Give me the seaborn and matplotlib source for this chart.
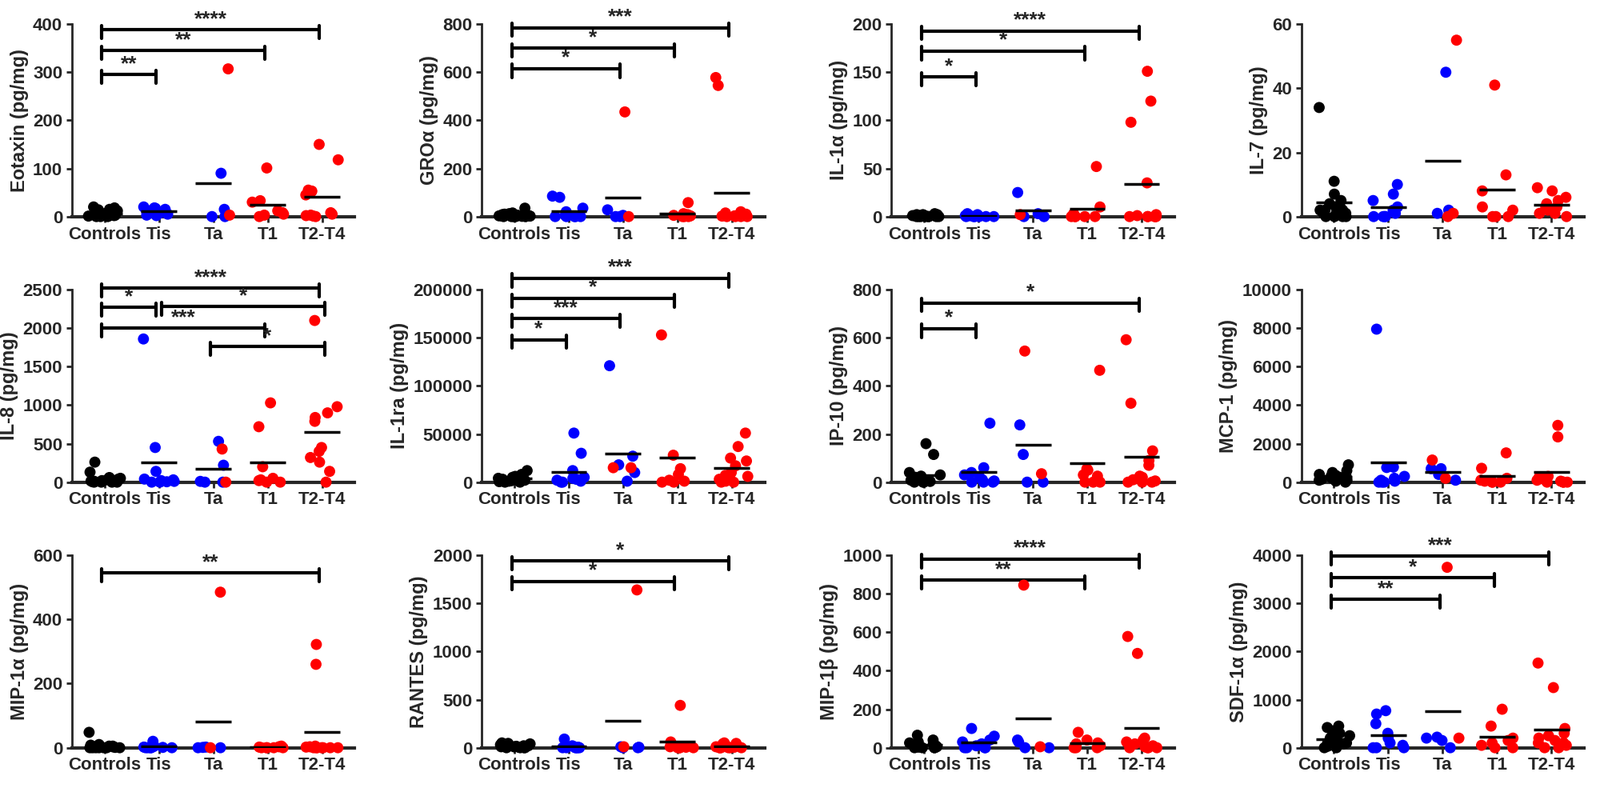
import numpy as np
import pandas as pd
import matplotlib
matplotlib.use('Agg')
import matplotlib.pyplot as plt
import seaborn as sns

sns.set_style('ticks')
plt.rcParams['font.family'] = ['Liberation Sans', 'DejaVu Sans']
plt.rcParams['font.weight'] = 'bold'

groups = ['Controls', 'Tis', 'Ta', 'T1', 'T2-T4']

# each panel: [controls, tis, ta_blue, ta_red, t1, t2t4]
eotaxin = [[20, 15, 12, 10, 8, 6, 5, 4, 3, 2, 2, 1, 1, 0, 0, 0, 18, 14, 7, 3],
           [20, 18, 15, 12, 10, 8, 5, 3, 2, 17],
           [90, 15, 0, 0], [307, 3],
           [101, 33, 30, 12, 8, 5, 3, 0],
           [150, 118, 55, 52, 53, 45, 8, 5, 3, 2, 1, 0]]
gro = [[35, 15, 10, 8, 5, 3, 2, 1, 0, 0, 0, 0, 12, 6, 4, 2, 1, 0],
       [85, 80, 35, 20, 5, 0, 0, 0, 0, 0],
       [28, 5, 0, 0], [435, 0],
       [58, 12, 8, 5, 3, 0, 0, 0],
       [578, 545, 20, 15, 10, 5, 3, 2, 0, 0, 0, 0]]
il1a = [[3, 2, 2, 1, 1, 1, 0, 0, 0, 0, 0, 0, 0, 0, 2, 1],
        [3, 2, 1, 1, 0, 0, 0, 0, 0, 0],
        [25, 3, 0, 0], [2],
        [52, 10, 3, 0, 0, 0, 0, 0],
        [151, 120, 98, 35, 2, 1, 0, 0, 0, 0, 0, 0]]
il7 = [[34, 11, 7, 5, 4, 3, 3, 2, 2, 1, 1, 1, 0, 0, 0, 0, 2, 3],
       [10, 7, 5, 3, 2, 1, 0, 0, 0, 0],
       [45, 2, 1], [55, 0, 1],
       [41, 13, 8, 3, 2, 0, 0, 0],
       [9, 8, 6, 5, 4, 3, 3, 2, 2, 1, 1, 0]]
il8 = [[260, 130, 60, 40, 30, 20, 15, 10, 5, 0, 0, 0, 0, 50, 20],
       [1860, 450, 140, 40, 30, 20, 10, 5, 0, 0],
       [530, 220, 0, 0, 10], [430, 0],
       [1030, 720, 200, 50, 30, 20, 0, 0],
       [2100, 980, 900, 840, 790, 450, 400, 320, 260, 140, 0]]
il1ra = [[12000, 8000, 6000, 5000, 4000, 3000, 2000, 1500, 1000, 500, 0, 0, 7000, 3000],
         [51000, 30000, 12000, 5000, 4000, 3000, 2000, 1000, 0, 0],
         [121000, 27000, 18000, 10000, 1000], [15000, 15000],
         [153000, 28000, 14000, 8000, 2000, 1000, 0, 0],
         [51000, 37000, 25000, 22000, 17000, 10000, 7000, 6000, 3000, 1000, 0, 0]]
ip10 = [[160, 115, 40, 30, 20, 15, 10, 8, 5, 3, 0, 0, 0, 25, 10],
        [245, 60, 40, 30, 20, 10, 5, 0, 0, 0],
        [238, 115, 0, 0], [545, 35],
        [465, 55, 50, 30, 25, 0, 0, 0],
        [592, 328, 130, 90, 70, 25, 20, 10, 5, 0, 0, 0]]
mcp1 = [[900, 600, 500, 400, 350, 300, 250, 200, 150, 100, 50, 0, 300, 200, 100],
        [7950, 780, 760, 300, 200, 100, 50, 0, 0, 0],
        [700, 700, 400, 100], [1150, 200],
        [1520, 720, 200, 100, 50, 0, 0, 0],
        [2950, 2350, 300, 250, 200, 150, 100, 50, 0, 0, 0, 0]]
mip1a = [[48, 10, 8, 5, 3, 2, 1, 0, 0, 0, 0, 0, 0, 0, 5],
         [20, 5, 3, 2, 1, 0, 0, 0, 0, 0],
         [2, 1, 0, 0], [485, 0],
         [5, 3, 2, 0, 0, 0, 0, 0],
         [322, 260, 5, 3, 2, 0, 0, 0, 0, 0, 0, 0]]
rantes = [[50, 40, 30, 20, 15, 10, 5, 0, 0, 0, 0, 45, 20, 10],
          [90, 20, 10, 5, 0, 0, 0, 0, 0, 0],
          [10, 5, 0, 0], [1640, 10],
          [440, 60, 10, 5, 0, 0, 0, 0],
          [50, 45, 40, 20, 10, 5, 0, 0, 0, 0, 0, 0]]
mip1b = [[65, 40, 30, 20, 15, 10, 5, 3, 0, 0, 0, 0, 25, 10],
         [100, 60, 40, 30, 20, 10, 0, 0, 0, 0],
         [40, 30, 0, 0], [845, 5],
         [80, 40, 25, 20, 10, 0, 0, 0],
         [578, 490, 50, 40, 30, 20, 10, 5, 0, 0, 0, 0]]
sdf1a = [[450, 420, 300, 250, 200, 150, 100, 80, 50, 30, 0, 0, 350, 100],
         [770, 700, 500, 300, 200, 100, 50, 0, 0, 0],
         [220, 200, 150, 0], [3750, 200],
         [800, 450, 200, 150, 100, 50, 0, 0],
         [1760, 1250, 400, 300, 250, 200, 150, 100, 100, 50, 0, 0]]

panels = [
    ('Eotaxin (pg/mg)', eotaxin, 400, 100, [(0, 1, 295, '**'), (0, 3, 345, '**'), (0, 4, 388, '****')]),
    ('GROα (pg/mg)', gro, 800, 200, [(0, 2, 615, '*'), (0, 3, 700, '*'), (0, 4, 785, '***')]),
    ('IL-1α (pg/mg)', il1a, 200, 50, [(0, 1, 145, '*'), (0, 3, 172, '*'), (0, 4, 193, '****')]),
    ('IL-7 (pg/mg)', il7, 60, 20, []),
    ('IL-8 (pg/mg)', il8, 2500, 500, [(0, 4, 2520, '****'), (0, 1, 2270, '*'), (1.1, 4.1, 2280, '*'),
                                       (0, 3, 2000, '***'), (2, 4.1, 1760, '*')]),
    ('IL-1ra (pg/mg)', il1ra, 200000, 50000, [(0, 1, 148000, '*'), (0, 2, 170000, '***'),
                                               (0, 3, 191000, '*'), (0, 4, 212000, '***')]),
    ('IP-10 (pg/mg)', ip10, 800, 200, [(0, 1, 638, '*'), (0, 4, 745, '*')]),
    ('MCP-1 (pg/mg)', mcp1, 10000, 2000, []),
    ('MIP-1α (pg/mg)', mip1a, 600, 200, [(0, 4, 545, '**')]),
    ('RANTES (pg/mg)', rantes, 2000, 500, [(0, 3, 1730, '*'), (0, 4, 1940, '*')]),
    ('MIP-1β (pg/mg)', mip1b, 1000, 200, [(0, 3, 870, '**'), (0, 4, 980, '****')]),
    ('SDF-1α (pg/mg)', sdf1a, 4000, 1000, [(0, 2, 3080, '**'), (0, 3, 3530, '*'), (0, 4, 3980, '***')]),
]

colors = {'k': '#000000', 'b': '#0000ff', 'r': '#ff0000'}

fig, axes = plt.subplots(3, 4, figsize=(20, 10.05), dpi=100)
fig.subplots_adjust(left=0.045, right=0.99, top=0.97, bottom=0.07, wspace=0.45, hspace=0.38)

for ax, (label, d, ymax, step, brackets) in zip(axes.flat, panels):
    ctrl, tis, ta_b, ta_r, t1, t24 = d
    rows = ([('Controls', v, 'k') for v in ctrl] + [('Tis', v, 'b') for v in tis]
            + [('Ta', v, 'b') for v in ta_b] + [('Ta', v, 'r') for v in ta_r]
            + [('T1', v, 'r') for v in t1] + [('T2-T4', v, 'r') for v in t24])
    df = pd.DataFrame(rows, columns=['group', 'value', 'c'])
    sns.stripplot(data=df, x='group', y='value', hue='c', palette=colors, order=groups,
                  jitter=0.3, size=10, linewidth=0, legend=False, ax=ax, clip_on=False,
                  zorder=3)
    means = df.groupby('group')['value'].mean()
    for i, g in enumerate(groups):
        ax.hlines(means[g], i - 0.33, i + 0.33, color='black', lw=2.5, zorder=4)
    ax.set_xlim(-0.6, 4.6)
    ax.set_ylim(0, ymax)
    ax.set_yticks(np.arange(0, ymax + step / 2, step))
    ax.set_xlabel('')
    ax.set_ylabel(label, fontsize=17, fontweight='bold')
    ax.tick_params(axis='both', labelsize=16, width=2, length=5)
    for lbl in ax.get_xticklabels() + ax.get_yticklabels():
        lbl.set_fontweight('bold')
        lbl.set_family(['Liberation Sans Narrow', 'Liberation Sans'])
    sns.despine(ax=ax)
    ax.spines['left'].set_linewidth(2)
    ax.spines['bottom'].set_linewidth(3)
    tick = ymax * 0.045
    for i, j, y, txt in brackets:
        xi, xj = i - 0.05, j - 0.05
        ax.plot([xi, xj], [y, y], color='black', lw=3, clip_on=False)
        ax.plot([xi, xi], [y - tick, y + tick * 0.5], color='black', lw=3, clip_on=False)
        ax.plot([xj, xj], [y - tick, y + tick * 0.5], color='black', lw=3, clip_on=False)
        ax.text((xi + xj) / 2, y + ymax * 0.005, txt, ha='center', va='bottom',
                fontsize=19, fontweight='bold', clip_on=False)

fig.savefig('out.png', dpi=100)
